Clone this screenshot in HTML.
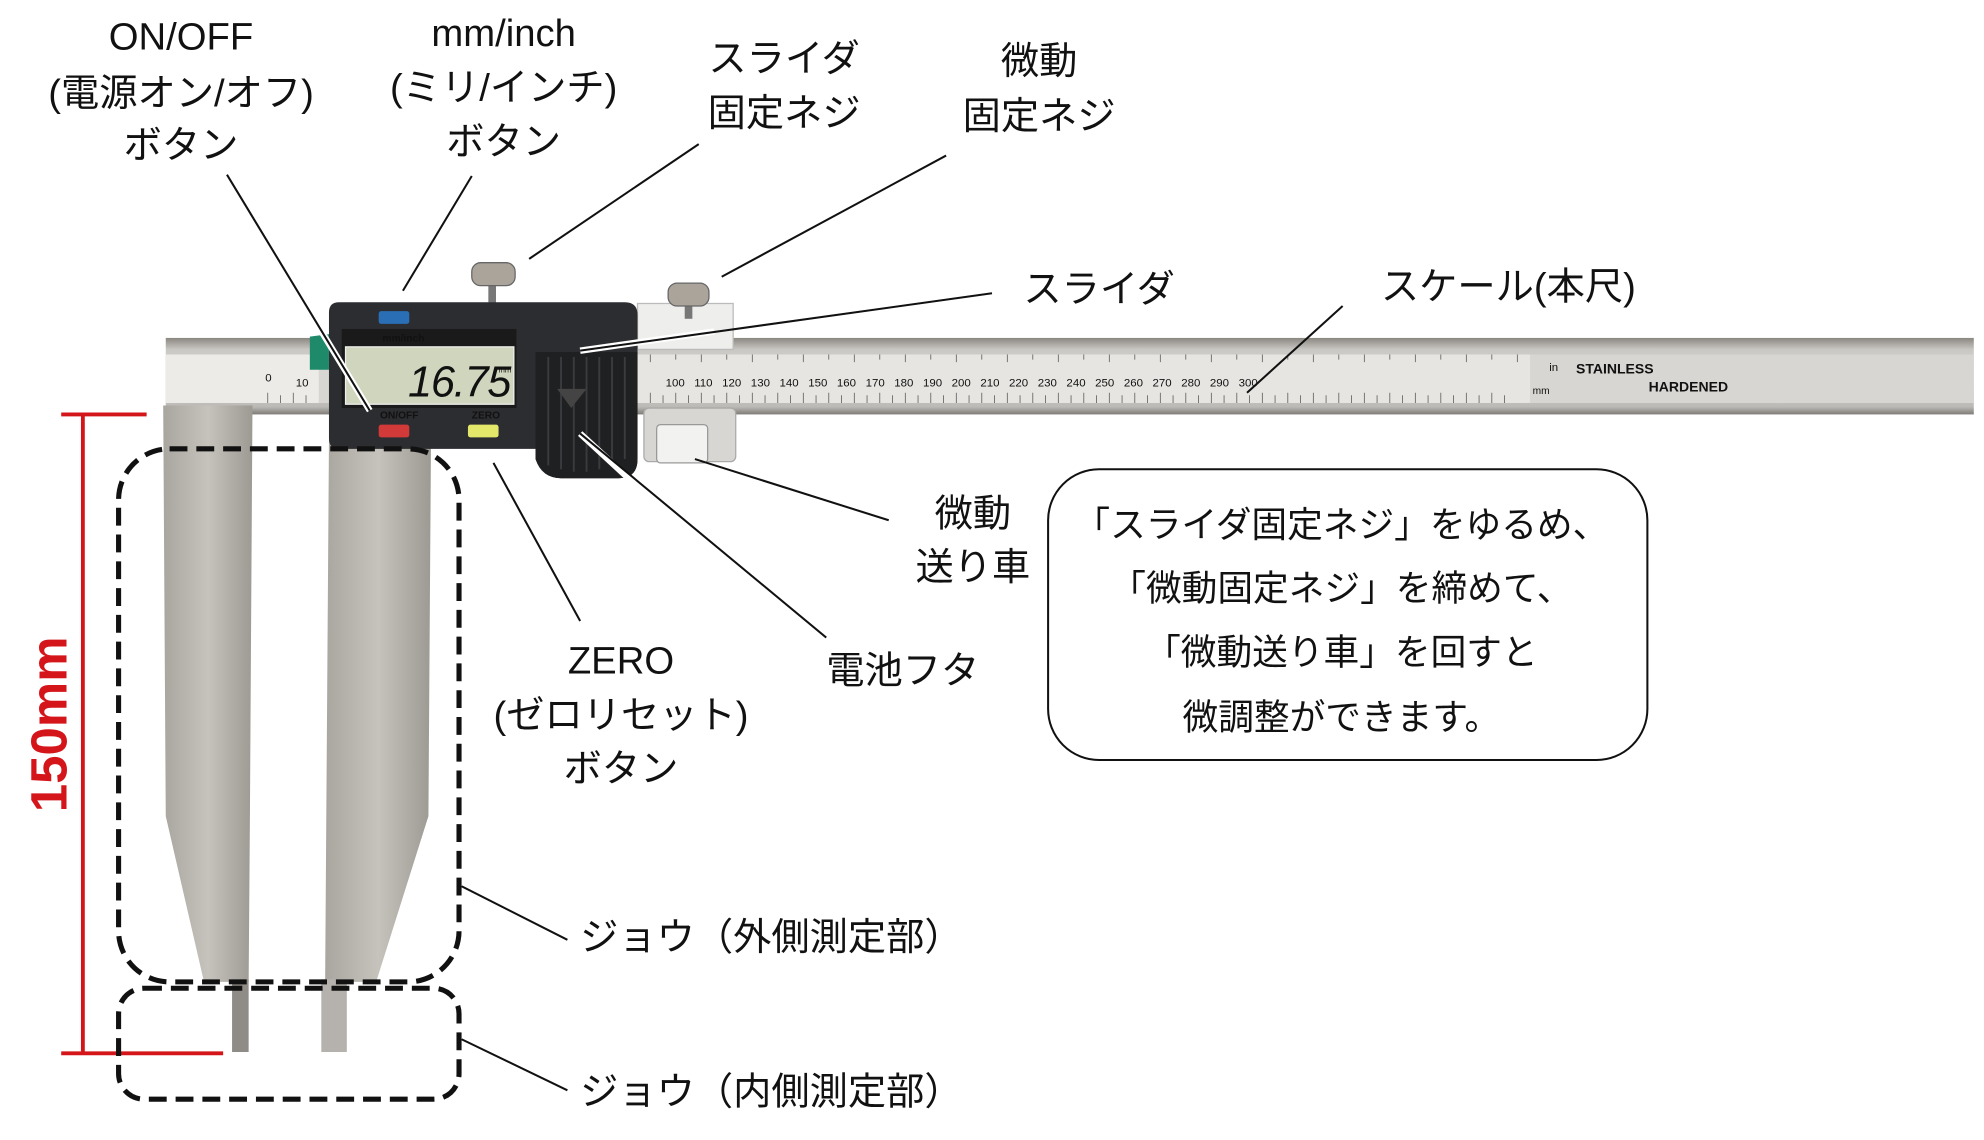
<!DOCTYPE html>
<html><head><meta charset="utf-8"><style>
html,body{margin:0;padding:0;background:#fff;}
svg{display:block}
text{font-family:"Liberation Sans","Noto Sans CJK JP",sans-serif;fill:#111;}
</style></head><body>
<svg width="1984" height="1140" viewBox="0 0 1556 894" preserveAspectRatio="none" xmlns="http://www.w3.org/2000/svg">
<defs>
<linearGradient id="beam" x1="0" y1="0" x2="0" y2="1">
<stop offset="0" stop-color="#8a8680"/><stop offset="0.15" stop-color="#c9c7c3"/><stop offset="0.5" stop-color="#dedcd8"/><stop offset="0.9" stop-color="#bcbab6"/><stop offset="1" stop-color="#7e7b77"/></linearGradient>
<linearGradient id="jaw" x1="0" y1="0" x2="1" y2="0">
<stop offset="0" stop-color="#a9a59f"/><stop offset="0.5" stop-color="#c6c2bc"/><stop offset="1" stop-color="#9d9993"/></linearGradient>
</defs>
<rect width="1556" height="894" fill="#fff"/>
<!-- beam -->
<rect x="130" y="265" width="1418" height="60" fill="url(#beam)"/>
<rect x="130" y="278" width="1418" height="38" fill="#d8d6d2"/>
<rect x="130" y="278" width="120" height="38" fill="#ecebe8"/>
<rect x="500" y="278" width="700" height="38" fill="#e6e5e2"/>
<!-- scale ticks -->
<g stroke="#555" stroke-width="0.6">
<path d="M210 308v8M220 310v6M230 308v8M240 310v6M510 308v8M520 310v6M530 308v8M540 310v6M550 308v8M560 310v6M570 308v8M580 310v6M590 308v8M600 310v6M610 308v8M620 310v6M630 308v8M640 310v6M650 308v8M660 310v6M670 308v8M680 310v6M690 308v8M700 310v6M710 308v8M720 310v6M730 308v8M740 310v6M750 308v8M760 310v6M770 308v8M780 310v6M790 308v8M800 310v6M810 308v8M820 310v6M830 308v8M840 310v6M850 308v8M860 310v6M870 308v8M880 310v6M890 308v8M900 310v6M910 308v8M920 310v6M930 308v8M940 310v6M950 308v8M960 310v6M970 308v8M980 310v6M990 308v8M1000 310v6M1010 308v8M1020 310v6M1030 308v8M1040 310v6M1050 308v8M1060 310v6M1070 308v8M1080 310v6M1090 308v8M1100 310v6M1110 308v8M1120 310v6M1130 308v8M1140 310v6M1150 308v8M1160 310v6M1170 308v8M1180 310v6"/>
<path d="M510 278v6M530 278v4M550 278v6M570 278v4M590 278v6M610 278v4M630 278v6M650 278v4M670 278v6M690 278v4M710 278v6M730 278v4M750 278v6M770 278v4M790 278v6M810 278v4M830 278v6M850 278v4M870 278v6M890 278v4M910 278v6M930 278v4M950 278v6M970 278v4M990 278v6M1010 278v4M1030 278v6M1050 278v4M1070 278v6M1090 278v4M1110 278v6M1130 278v4M1150 278v6M1170 278v4M1190 278v6"/>
</g>
<g font-size="9" fill="#333">
<text x="208" y="299" font-size="9">0</text><text x="232" y="303" font-size="9">10</text>
<text x="522" y="303" font-size="9">100 &#160;&#160;110 &#160;&#160;120 &#160;&#160;130 &#160;&#160;140 &#160;&#160;150 &#160;&#160;160 &#160;&#160;170 &#160;&#160;180 &#160;&#160;190 &#160;&#160;200 &#160;&#160;210 &#160;&#160;220 &#160;&#160;230 &#160;&#160;240 &#160;&#160;250 &#160;&#160;260 &#160;&#160;270 &#160;&#160;280 &#160;&#160;290 &#160;&#160;300</text>
<text x="1215" y="291" font-size="9">in</text><text x="1202" y="309" font-size="8">mm</text>
<text x="1236" y="293" font-size="11" font-weight="bold" fill="#333">STAINLESS</text>
<text x="1293" y="307" font-size="11" font-weight="bold" fill="#333">HARDENED</text>
</g>
<!-- fixed jaw -->
<path d="M128 318 L198 318 L196 640 L195 770 L160 770 L130 640 Z" fill="url(#jaw)"/>
<rect x="182" y="768" width="13" height="57" fill="#8f8b86"/>
<!-- moving jaw -->
<path d="M258 345 L338 345 L336 640 L295 770 L255 770 Z" fill="url(#jaw)"/>
<rect x="252" y="768" width="20" height="57" fill="#b5b2ae"/>
<!-- fine adjuster -->
<rect x="500" y="238" width="75" height="36" fill="#eeeeec" stroke="#bbb"/>
<rect x="505" y="320" width="72" height="42" rx="4" fill="#d8d6d2" stroke="#aaa"/>
<rect x="515" y="333" width="40" height="30" rx="3" fill="#f2f2f0" stroke="#999"/>
<!-- screws -->
<rect x="383" y="220" width="6" height="20" fill="#777"/>
<rect x="370" y="206" width="34" height="18" rx="7" fill="#aaa49a" stroke="#666"/>
<rect x="537" y="236" width="6" height="14" fill="#777"/>
<rect x="524" y="222" width="32" height="18" rx="7" fill="#aaa49a" stroke="#666"/>
<!-- slider body -->
<path d="M266 237 L490 237 Q500 237 500 247 L500 360 Q500 375 485 375 L440 375 Q425 375 420 360 L420 352 L266 352 Q258 352 258 344 L258 245 Q258 237 266 237 Z" fill="#2c2d30"/>
<path d="M420 276 L500 276 L500 360 Q500 375 485 375 L440 375 Q425 375 420 360 Z" fill="#1f2022"/>
<g stroke="#3a3b3e" stroke-width="1.5"><path d="M430 280v85M440 280v88M450 280v90M460 280v90M470 280v88M480 280v85M490 280v80"/></g>
<path d="M437 305 L460 305 L448 320 Z" fill="#444"/>
<path d="M243 264 L258 262 L258 290 L243 290 Z" fill="#1e8a6a"/>
<rect x="268" y="258" width="137" height="62" fill="#1a1a1a"/>
<rect x="271" y="272" width="132" height="45" fill="#cfd6bd" stroke="#eee" stroke-width="1"/>
<text x="320" y="311" font-size="34" font-style="italic" fill="#222" letter-spacing="-1">16.75</text>
<text x="391" y="292" font-size="6" fill="#222">mm</text>
<text x="300" y="268" font-size="8" font-weight="bold" fill="#ddd">mm/inch</text>
<text x="298" y="328" font-size="8" font-weight="bold" fill="#ddd">ON/OFF</text>
<text x="370" y="328" font-size="8" font-weight="bold" fill="#ddd">ZERO</text>
<rect x="297" y="244" width="24" height="10" rx="2" fill="#2a6fb5"/>
<rect x="297" y="333" width="24" height="10" rx="2" fill="#d23a3a"/>
<rect x="367" y="333" width="24" height="10" rx="2" fill="#e3e86a"/>
<!-- red dimension -->
<g stroke="#d4161b" stroke-width="3" fill="none"><path d="M65 325V826M48 325H115M48 826H175"/></g>
<text transform="translate(52,568) rotate(-90)" text-anchor="middle" font-size="40" font-weight="bold" style="fill:#d4161b">150mm</text>
<!-- dashed boxes -->
<g fill="none" stroke="#111" stroke-width="4" stroke-dasharray="14 7">
<rect x="93" y="352" width="267" height="418" rx="40"/>
<rect x="93" y="775" width="267" height="87" rx="20"/>
</g>
<!-- leaders -->
<g stroke="#fff" stroke-width="5" fill="none"><path d="M240 240L290 322M455 275L560 260M455 340L520 400"/></g>
<g stroke="#111" stroke-width="1.6" fill="none">
<path d="M178 137L290 322M370 138L316 228M548 113L415 203M742 122L566 217M778 230L455 275M1053 240L978 308M697 408L545 360M648 500L455 340M455 487L387 363M445 737L362 695M445 855L362 815"/>
</g>
<!-- labels -->
<g font-size="30" text-anchor="middle">
<text x="142" y="39">ON/OFF</text><text x="142" y="83">(電源オン/オフ)</text><text x="142" y="124">ボタン</text>
<text x="395" y="36">mm/inch</text><text x="395" y="79">(ミリ/インチ)</text><text x="395" y="121">ボタン</text>
<text x="615" y="56">スライダ</text><text x="615" y="99">固定ネジ</text>
<text x="815" y="58">微動</text><text x="815" y="101">固定ネジ</text>
<text x="862" y="237">スライダ</text>
<text x="1183" y="235">スケール(本尺)</text>
<text x="763" y="413">微動</text><text x="763" y="455">送り車</text>
<text x="708" y="536">電池フタ</text>
<text x="487" y="528">ZERO</text><text x="487" y="571">(ゼロリセット)</text><text x="487" y="613">ボタン</text>
<text x="605" y="745">ジョウ（外側測定部）</text>
<text x="605" y="866">ジョウ（内側測定部）</text>
</g>
<rect x="822" y="368" width="470" height="228" rx="40" fill="none" stroke="#111" stroke-width="1.6"/>
<g font-size="28" text-anchor="middle">
<text x="1052" y="421">「スライダ固定ネジ」をゆるめ、</text>
<text x="1052" y="471">「微動固定ネジ」を締めて、</text>
<text x="1052" y="521">「微動送り車」を回すと</text>
<text x="1052" y="572">微調整ができます。</text>
</g>
</svg>
</body></html>
